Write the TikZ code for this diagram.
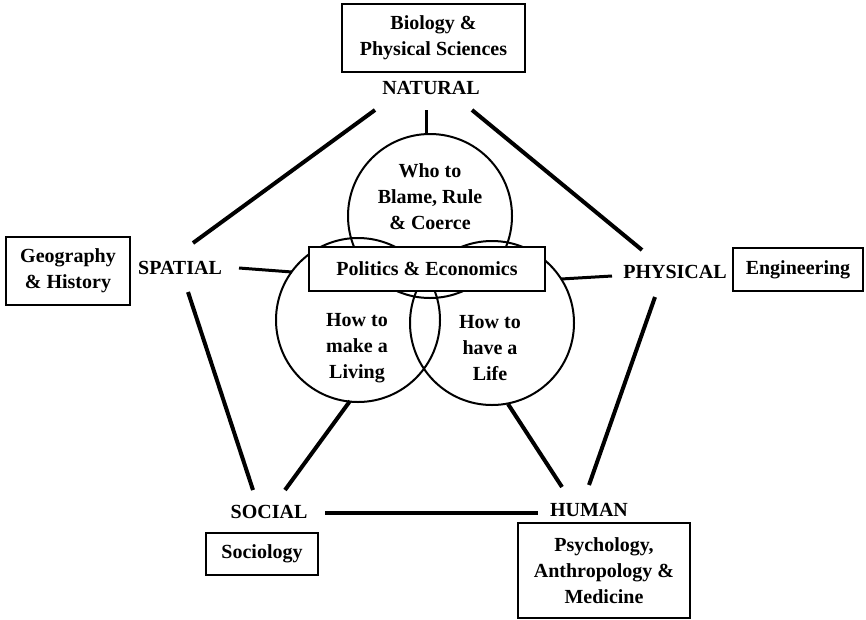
\documentclass[tikz,border=0pt]{standalone}
\usepackage{fontspec}
\setmainfont{Liberation Serif}
\begin{document}
\begin{tikzpicture}[x=1pt,y=-1pt,
  txt/.style={font=\fontsize{20}{26}\selectfont\bfseries, align=center, inner sep=0pt},
  boxed/.style={txt, draw, line width=1.4pt, fill=white},
  ring/.style={circle, draw, line width=2pt, minimum size=164pt, inner sep=0pt},
  edge/.style={line width=4pt},
  link/.style={line width=3pt}]
\useasboundingbox (0,0) rectangle (866,619);
% circles
\node[ring] (topc) at (430,216) {};
\node[ring] (leftc) at (358,320) {};
\node[ring] (rightc) at (492,323) {};
\node[txt] (tct) at (430,197) {Who to\\Blame, Rule\\\& Coerce};
\node[txt] (lct) at (357,348) {How to\\make a\\Living};
\node[txt] (rct) at (490,348) {How to\\have a\\Life};
% centre box
\node[boxed, line width=2pt, minimum width=236pt, minimum height=44pt] (pol) at (427,269) {Politics \& Economics};
% labels
\node[txt] (nat) at (431,88) {NATURAL};
\node[txt] (spa) at (180,268) {SPATIAL};
\node[txt] (phy) at (675,272) {PHYSICAL};
\node[txt] (soc) at (269,512) {SOCIAL};
\node[txt] (hum) at (589,510) {HUMAN};
% discipline boxes
\node[boxed, minimum width=183pt, minimum height=68pt] (bio) at (433.5,38) {Biology \&\\Physical Sciences};
\node[boxed, minimum width=124pt, minimum height=68pt] (geo) at (68,271) {Geography\\\& History};
\node[boxed, minimum width=130pt, minimum height=43pt] (eng) at (798,269.5) {Engineering};
\node[boxed, minimum width=112pt, minimum height=42pt] (sco) at (262,554) {Sociology};
\node[boxed, minimum width=172pt, minimum height=95pt] (psy) at (604,570.5) {Psychology,\\Anthropology \&\\Medicine};
% end points
\coordinate (n0) at (426,110);
\coordinate (nl) at (375,110);
\coordinate (nr) at (472,110);
\coordinate (sU) at (193,243);
\coordinate (sD) at (188,292);
\coordinate (sR) at (239,268);
\coordinate (sC) at (292,272);
\coordinate (pU) at (642,250);
\coordinate (pD) at (655,297);
\coordinate (pL) at (612,276);
\coordinate (pC) at (561,279);
\coordinate (oU) at (253,490);
\coordinate (oV) at (285,490);
\coordinate (oR) at (325,513);
\coordinate (hL) at (538,513);
\coordinate (hU) at (589,485);
\coordinate (hV) at (562,487);
\coordinate (lB) at (350,401);
\coordinate (rB) at (508,404);
% pentagon
\draw[edge] (nl) -- (sU);
\draw[edge] (nr) -- (pU);
\draw[edge] (sD) -- (oU);
\draw[edge] (pD) -- (hU);
\draw[edge] (oR) -- (hL);
\draw[edge] (lB) -- (oV);
\draw[edge] (rB) -- (hV);
\draw[link] (sR) -- (sC);
\draw[link] (pL) -- (pC);
\draw[line width=3pt] (n0) -- (n0 |- topc.north);
\end{tikzpicture}
\end{document}
